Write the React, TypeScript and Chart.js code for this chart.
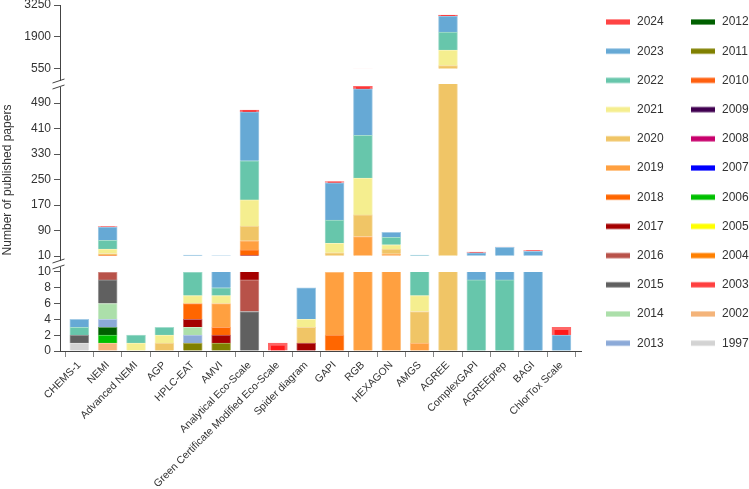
import React, { useEffect, useRef } from 'react';
import { Chart, registerables } from 'chart.js';

Chart.register(...registerables);

const FONT = "'Liberation Sans', Arial, sans-serif";
Chart.defaults.font.family = FONT;
Chart.defaults.color = '#333';

const categories = [
  'CHEMS-1', 'NEMI', 'Advanced NEMI', 'AGP', 'HPLC-EAT', 'AMVI', 'Analytical Eco-Scale',
  'Green Certificate Modified Eco-Scale', 'Spider diagram', 'GAPI', 'RGB', 'HEXAGON', 'AMGS',
  'AGREE', 'ComplexGAPI', 'AGREEprep', 'BAGI', 'ChlorTox Scale',
];

// oldest first = bottom of each stack
const years = [
  '1997', '2002', '2003', '2004', '2005', '2006', '2007', '2008', '2009', '2010', '2011', '2012',
  '2013', '2014', '2015', '2016', '2017', '2018', '2019', '2020', '2021', '2022', '2023', '2024',
];
const yearColors = [
  '#d3d3d3', '#f4b47a', '#ff4040', '#ff8000', '#ffff00', '#00c000', '#0000ff', '#c8006c',
  '#400050', '#ff6010', '#808000', '#006000', '#8caad8', '#acdfaa', '#606060', '#b85249',
  '#a50000', '#ff6600', '#ffa040', '#f0c566', '#f5ee8f', '#67c6ab', '#66a9d5', '#ff4444',
];

// papers per year, one value per category (same order as categories)
const p1997 = [1, 0, 0, 0, 0, 0, 0, 0, 0, 0, 0, 0, 0, 0, 0, 0, 0, 0];
const p2002 = [0, 1, 0, 0, 0, 0, 0, 0, 0, 0, 0, 0, 0, 0, 0, 0, 0, 0];
const p2003 = [0, 0, 0, 0, 0, 0, 0, 0, 0, 0, 0, 0, 0, 0, 0, 0, 0, 0];
const p2004 = [0, 0, 0, 0, 0, 0, 0, 0, 0, 0, 0, 0, 0, 0, 0, 0, 0, 0];
const p2005 = [0, 0, 0, 0, 0, 0, 0, 0, 0, 0, 0, 0, 0, 0, 0, 0, 0, 0];
const p2006 = [0, 1, 0, 0, 0, 0, 0, 0, 0, 0, 0, 0, 0, 0, 0, 0, 0, 0];
const p2007 = [0, 0, 0, 0, 0, 0, 0, 0, 0, 0, 0, 0, 0, 0, 0, 0, 0, 0];
const p2008 = [0, 0, 0, 0, 0, 0, 0, 0, 0, 0, 0, 0, 0, 0, 0, 0, 0, 0];
const p2009 = [0, 0, 0, 0, 0, 0, 0, 0, 0, 0, 0, 0, 0, 0, 0, 0, 0, 0];
const p2010 = [0, 0, 0, 0, 0, 0, 0, 0, 0, 0, 0, 0, 0, 0, 0, 0, 0, 0];
const p2011 = [0, 0, 0, 0, 1, 1, 0, 0, 0, 0, 0, 0, 0, 0, 0, 0, 0, 0];
const p2012 = [0, 1, 0, 0, 0, 0, 0, 0, 0, 0, 0, 0, 0, 0, 0, 0, 0, 0];
const p2013 = [0, 1, 0, 0, 1, 0, 0, 0, 0, 0, 0, 0, 0, 0, 0, 0, 0, 0];
const p2014 = [0, 2, 0, 0, 1, 0, 0, 0, 0, 0, 0, 0, 0, 0, 0, 0, 0, 0];
const p2015 = [1, 3, 0, 0, 0, 0, 5, 0, 0, 0, 0, 0, 0, 0, 0, 0, 0, 0];
const p2016 = [0, 1, 0, 0, 0, 0, 4, 0, 0, 0, 0, 0, 0, 0, 0, 0, 0, 0];
const p2017 = [0, 0, 0, 0, 1, 1, 4, 0, 1, 0, 0, 0, 0, 0, 0, 0, 0, 0];
const p2018 = [0, 2, 0, 0, 2, 1, 16, 0, 0, 2, 0, 0, 0, 0, 0, 0, 0, 0];
const p2019 = [0, 1, 0, 0, 0, 3, 29, 0, 0, 8, 71, 17, 1, 0, 0, 0, 0, 0];
const p2020 = [0, 5, 0, 1, 0, 0, 46, 0, 2, 10, 68, 15, 4, 689, 0, 0, 0, 0];
const p2021 = [0, 14, 1, 1, 1, 1, 82, 0, 1, 30, 116, 13, 2, 663, 0, 0, 0, 0];
const p2022 = [1, 27, 1, 1, 3, 1, 123, 0, 0, 73, 134, 24, 4, 759, 9, 9, 0, 0];
const p2023 = [1, 42, 0, 0, 3, 3, 154, 0, 4, 117, 146, 15, 2, 675, 11, 28, 25, 2];
const p2024 = [0, 1, 0, 0, 0, 0, 5, 1, 0, 4, 8, 0, 0, 42, 2, 1, 2, 1];

const yearValues = [
  p1997, p2002, p2003, p2004, p2005, p2006, p2007, p2008, p2009, p2010, p2011, p2012,
  p2013, p2014, p2015, p2016, p2017, p2018, p2019, p2020, p2021, p2022, p2023, p2024,
];

const topTicks = [550, 1900, 3250];
const midTicks = [10, 90, 170, 250, 330, 410, 490];
const lowTicks = [0, 2, 4, 6, 8, 10];

// broken y axis: three stacked scales, bars clipped to [from, to] of each
const segments = [
  { id: 'yTop', min: -83, max: 3250, from: 550, to: 3250, share: 79, ticks: topTicks, order: 3 },
  { id: 'yMid', min: -15.1, max: 550, from: 10, to: 550, share: 180, ticks: midTicks, order: 2 },
  { id: 'yLow', min: 0, max: 11.01, from: 0, to: 10, share: 87, ticks: lowTicks, order: 1 },
];

const tint = (hex: string, f: number) => {
  const n = parseInt(hex.slice(1), 16);
  const m = (c: number) => Math.round(c + (255 - c) * f);
  return `rgb(${m((n >> 16) & 255)},${m((n >> 8) & 255)},${m(n & 255)})`;
};

const segmentClip = {
  id: 'segmentClip',
  beforeDatasetDraw(chart: any, args: any) {
    const ds = chart.data.datasets[args.index];
    const seg = segments.find((s) => s.id === ds.yAxisID)!;
    const sc = chart.scales[seg.id];
    const top = seg.to === sc.max ? sc.top - 2 : sc.getPixelForValue(seg.to);
    let bottom = sc.getPixelForValue(seg.from);
    if (seg.from > sc.min) bottom -= 0.6;
    const { ctx, chartArea } = chart;
    ctx.save();
    ctx.beginPath();
    ctx.rect(chartArea.left, top, chartArea.right - chartArea.left, bottom - top);
    ctx.clip();
  },
  afterDatasetDraw(chart: any) {
    chart.ctx.restore();
  },
};

const extras = {
  id: 'extras',
  afterDraw(chart: any) {
    const { ctx } = chart;
    const x = chart.scales.yMid.right - 0.5;
    ctx.save();
    // axis breaks
    [chart.scales.yTop.bottom, chart.scales.yMid.bottom].forEach((b: number) => {
      ctx.fillStyle = '#fff';
      ctx.fillRect(x - 2, b - 3, 4, 6);
      ctx.strokeStyle = '#444';
      ctx.lineWidth = 1;
      [b - 3, b + 3].forEach((yy) => {
        ctx.beginPath();
        ctx.moveTo(x - 7, yy + 2);
        ctx.lineTo(x + 5, yy - 2);
        ctx.stroke();
      });
    });

    // y title
    ctx.fillStyle = '#333';
    ctx.font = `12px ${FONT}`;
    ctx.textAlign = 'center';
    ctx.textBaseline = 'middle';
    ctx.translate(8, 180);
    ctx.rotate(-Math.PI / 2);
    ctx.fillText('Number of published papers', 0, 0);
    ctx.restore();

    // legend, newest first, two columns of twelve
    ctx.save();
    ctx.font = `12px ${FONT}`;
    ctx.textAlign = 'left';
    ctx.textBaseline = 'middle';
    for (let i = 0; i < years.length; i++) {
      const k = years.length - 1 - i;
      const col = Math.floor(i / 12);
      const row = i % 12;
      const bx = col === 0 ? 606 : 691;
      const cy = 22 + row * 29.2;
      ctx.fillStyle = tint(yearColors[k], 0.4);
      ctx.fillRect(bx, cy - 3, 24, 6);
      ctx.fillStyle = yearColors[k];
      ctx.fillRect(bx, cy - 2, 24, 4);
      ctx.fillStyle = '#333';
      ctx.fillText(years[k], bx + 31, cy);
    }
    ctx.restore();
  },
};

export default function App() {
  const canvasRef = useRef<HTMLCanvasElement | null>(null);

  useEffect(() => {
    if (!canvasRef.current) return;

    const datasets: any[] = [];
    segments.forEach((seg) => {
      years.forEach((yr, k) => {
        const is2024 = yr === '2024';
        datasets.push({
          label: yr,
          data: [...yearValues[k]],
          yAxisID: seg.id,
          backgroundColor: is2024 ? '#ff1a1a' : yearColors[k],
          borderColor: is2024 ? '#ff6666' : tint(yearColors[k], 0.4),
          borderWidth: is2024 ? 3 : 1,
          borderSkipped: 'start',
          barThickness: 19,
        });
      });
    });

    const scales: any = {
      x: {
        type: 'linear',
        stacked: true,
        min: -0.681,
        max: 17.69,
        offset: false,
        afterBuildTicks: (s: any) => {
          s.ticks = categories.map((_, i) => ({ value: i }));
        },
        afterFit: (s: any) => {
          s.height = 138;
          s.paddingLeft = 0;
          s.paddingRight = 0;
        },
        grid: { drawOnChartArea: false, drawTicks: true, tickLength: 6, color: '#888' },
        border: { display: true, color: '#444' },
        ticks: {
          autoSkip: false,
          maxRotation: 45,
          minRotation: 45,
          padding: 2,
          color: '#333',
          font: { size: 10.5 },
          callback: (v: number) => categories[v],
        },
      },
    };
    segments.forEach((seg) => {
      scales[seg.id] = {
        type: 'linear',
        position: 'left',
        stack: 'papers',
        stackWeight: seg.share,
        weight: seg.order,
        stacked: true,
        min: seg.min,
        max: seg.max,
        afterBuildTicks: (s: any) => {
          s.ticks = seg.ticks.map((v) => ({ value: v }));
        },
        afterFit: (s: any) => {
          s.width = 60;
          s.paddingTop = 0;
          s.paddingBottom = 0;
        },
        grid: { drawOnChartArea: false, drawTicks: true, tickLength: 6, color: '#555' },
        border: { display: true, color: '#444' },
        ticks: {
          autoSkip: false,
          padding: 3,
          color: '#333',
          font: { size: 12 },
          callback: (v: number) => String(v),
        },
      };
    });

    const chart = new Chart(canvasRef.current, {
      type: 'bar',
      data: { labels: categories.map((_, i) => i), datasets },
      options: {
        animation: false,
        responsive: true,
        maintainAspectRatio: false,
        layout: { padding: { left: 0, top: 5, right: 168, bottom: 0 } },
        plugins: { legend: { display: false }, tooltip: { enabled: false } },
        scales,
      },
      plugins: [segmentClip, extras],
    } as any);

    return () => chart.destroy();
  }, []);

  return (
    <div style={{ position: 'absolute', left: 0, top: 0, width: 749, height: 489 }}>
      <canvas ref={canvasRef} />
    </div>
  );
}
